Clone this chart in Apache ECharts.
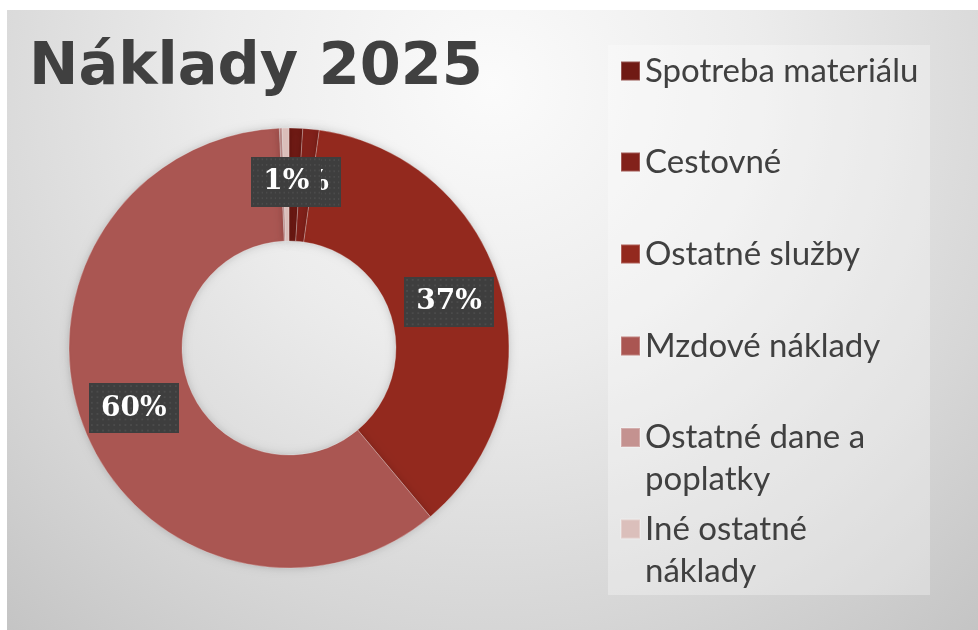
<!DOCTYPE html>
<html>
<head>
<meta charset="utf-8">
<script src="https://cdn.jsdelivr.net/npm/echarts@6/dist/echarts.min.js"></script>
<style>
html,body{margin:0;padding:0;background:#ffffff;}
#chart{width:978px;height:630px;}
</style>
</head>
<body>
<div id="chart"></div>
<script>
var titleText = 'Náklady 2025';
var categories = ['Spotreba materiálu', 'Cestovné', 'Ostatné služby', 'Mzdové náklady', 'Ostatné dane a poplatky', 'Iné ostatné náklady'];
var values = [1.0, 1.2, 36.7, 60.4, 0.2, 0.5];
var colors = ['#701a14', '#82211a', '#93291e', '#aa5652', '#c49290', '#dbbfbb'];
var legendLabels = ['Spotreba materiálu', 'Cestovné', 'Ostatné služby', 'Mzdové náklady', '\nOstatné dane a\npoplatky', '\nIné ostatné\nnáklady'];

// dotted label background
var pat = document.createElement('canvas');
pat.width = 96; pat.height = 54;
(function () {
  var c = pat.getContext('2d');
  c.fillStyle = '#3e3e3e';
  c.fillRect(0, 0, 96, 54);
  c.fillStyle = '#4b4b4b';
  for (var y = 2; y < 54; y += 6) {
    for (var x = 2; x < 96; x += 6) {
      c.fillRect(x, y, 2, 2);
    }
  }
})();

var chart = echarts.init(document.getElementById('chart'), null, {renderer: 'canvas'});

var legendTops = [50, 141, 233, 325, 374.5, 466];
var legends = categories.map(function (name, i) {
  return {
    orient: 'vertical',
    left: 620,
    top: legendTops[i],
    padding: 0,
    itemWidth: 19,
    itemHeight: 19,
    icon: 'rect',
    selectedMode: false,
    data: [name],
    formatter: function () { return legendLabels[i]; },
    textStyle: {
      color: '#404040',
      fontFamily: 'Lato',
      fontSize: 33,
      lineHeight: 42
    }
  };
});

var option = {
  animation: false,
  color: colors,
  graphic: [
    {
      type: 'rect',
      silent: true,
      z: -10,
      shape: {x: 7, y: 10, width: 971, height: 620},
      style: {
        fill: {
          type: 'radial', x: 0.5, y: 0.12, r: 1.25,
          colorStops: [
            {offset: 0, color: '#fbfbfb'},
            {offset: 0.35, color: '#ececec'},
            {offset: 0.7, color: '#d6d6d6'},
            {offset: 1, color: '#c0c0c0'}
          ]
        }
      }
    },
    {
      type: 'rect',
      silent: true,
      z: -9,
      shape: {x: 608, y: 45, width: 322, height: 550},
      style: {fill: 'rgba(255,255,255,0.3)'}
    }
  ],
  title: {
    text: titleText,
    left: 24,
    top: 34,
    textStyle: {
      color: '#404040',
      fontFamily: 'DejaVu Sans',
      fontWeight: 'bold',
      fontSize: 59,
      lineHeight: 60
    }
  },
  legend: legends,
  series: [{
    type: 'pie',
    center: [289, 348],
    radius: [107, 220],
    startAngle: 90,
    clockwise: true,
    percentPrecision: 0,
    avoidLabelOverlap: false,
    labelLayout: {hideOverlap: false},
    itemStyle: {
      borderColor: 'rgba(255,255,255,0.25)',
      borderWidth: 1,
      shadowBlur: 8,
      shadowColor: 'rgba(0,0,0,0.18)'
    },
    label: {
      show: true,
      position: 'inside',
      formatter: '{d}%',
      color: '#ffffff',
      fontFamily: 'DejaVu Serif',
      fontWeight: 'bold',
      fontSize: 28,
      lineHeight: 32,
      backgroundColor: {image: pat},
      padding: [9, 12],
      shadowBlur: 5,
      shadowOffsetX: 3,
      shadowOffsetY: 3,
      shadowColor: 'rgba(0,0,0,0.45)'
    },
    labelLine: {show: false},
    emphasis: {disabled: true},
    data: categories.map(function (name, i) {
      return {
        name: name,
        value: values[i],
        label: {show: values[i] >= 0.5}
      };
    })
  }]
};
chart.setOption(option);
</script>
</body>
</html>
